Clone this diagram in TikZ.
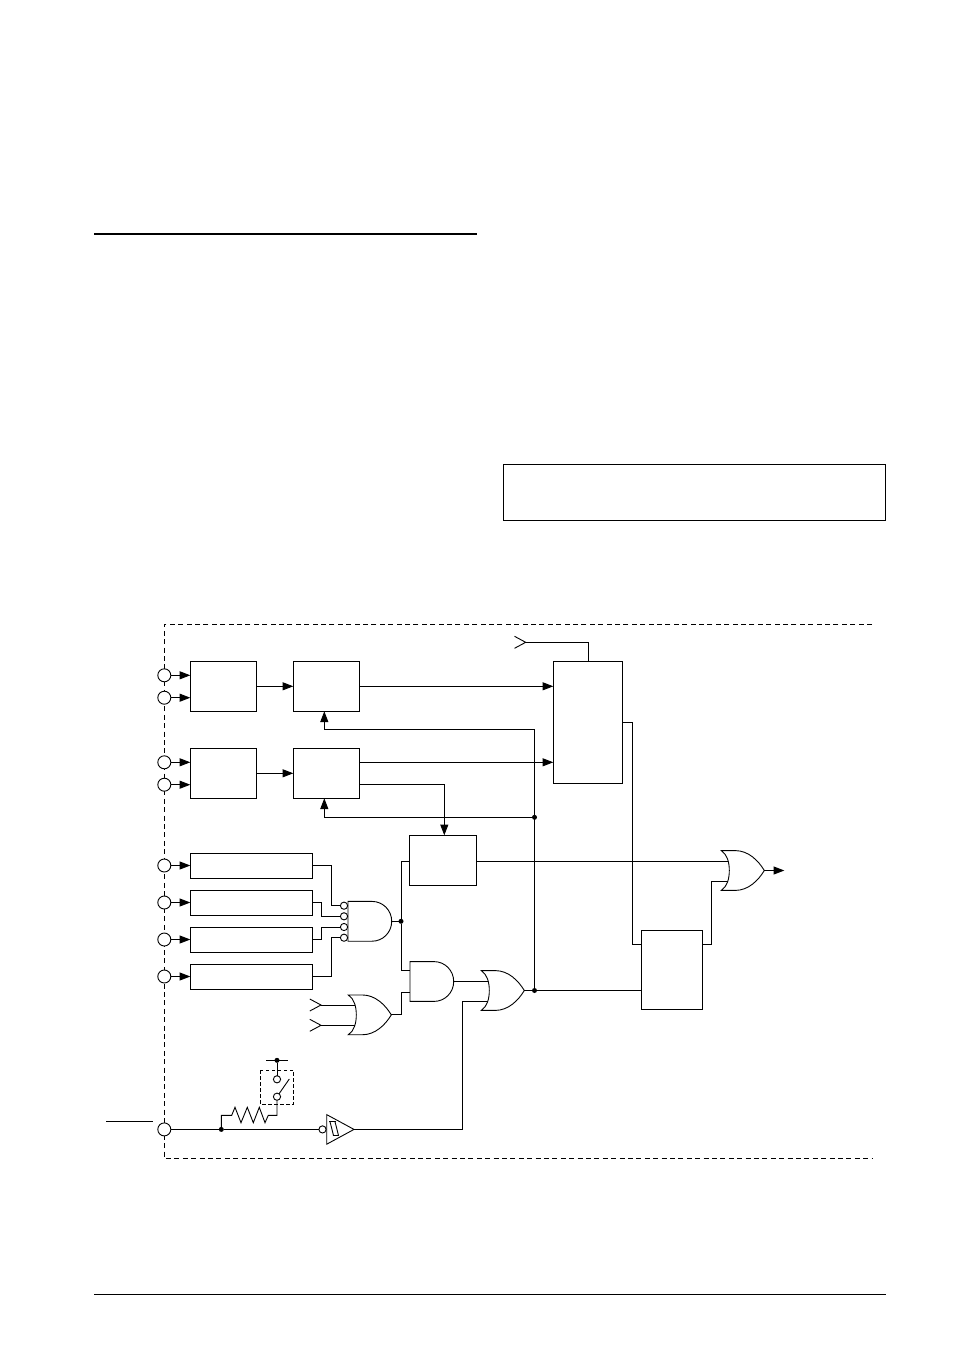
\documentclass[tikz,border=0pt]{standalone}
\usetikzlibrary{arrows.meta}

\tikzset{
    block/.style={draw,rectangle,inner sep=0pt,outer sep=0pt},
    pad/.style={draw,circle,fill=white,minimum size=13pt,inner sep=0pt,outer sep=0pt},
    bub/.style={draw,circle,fill=white,minimum size=7.2pt,inner sep=0pt,outer sep=0pt},
    dot/.style={circle,fill=black,minimum size=5pt,inner sep=0pt,outer sep=0pt},
    flow/.style={-{Triangle[length=10.7pt,width=8pt]}},
    framed/.style={dash pattern=on 5pt off 3.4pt},
    pics/andgate/.style={code={
        \draw (0,-19.9) -- (24,-19.9) .. controls (35,-19.9) and (43.7,-11) .. (43.7,0)
            .. controls (43.7,11) and (35,19.9) .. (24,19.9) -- (0,19.9) -- cycle;
        \coordinate (-a) at (0,-11.5);
        \coordinate (-b) at (0,10.5);
        \coordinate (-out) at (43.7,0);
    }},
    pics/orgate/.style={code={
        \draw (0,-19.9) -- (14,-19.9) .. controls (27,-19.9) and (37,-10) .. (43,0)
            .. controls (37,10) and (27,19.9) .. (14,19.9) -- (0,19.9)
            .. controls (6,16) and (8,8) .. (8,0) .. controls (8,-8) and (6,-16) .. (0,-19.9) -- cycle;
        \coordinate (-a) at (7,-9.1);
        \coordinate (-b) at (7,10.9);
        \coordinate (-out) at (43,0);
    }},
    pics/chevron/.style={code={
        \draw (-11.2,-6) -- (0,0) -- (-11.2,6);
        \coordinate (-tip) at (0,0);
    }},
    pics/schmitt/.style={code={
        \draw (0,-14.8) -- (27.3,0) -- (0,14.8) -- cycle;
        \draw (2.3,-7.7) -- (9.3,-7.7) (5.8,6) -- (12.6,6);
        \draw (3.3,-7.7) -- (6.8,6) (8.3,-7.7) -- (11.8,6);
        \coordinate (-out) at (27.3,0);
    }},
}

\begin{document}
\begin{tikzpicture}[x=1pt,y=-1pt,line width=0.9pt]
    \useasboundingbox (0,0) rectangle (954,1346);

    % page furniture
    \draw[line width=1.6pt] (94,234) -- (477,234);
    \draw (94,1294) -- (886,1294);
    \node (note) [block,minimum width=382.5pt,minimum height=56pt] at (694.4,492) {};

    % chip outline
    \draw[framed] (872,624.5) -- (164.3,624.5) -- (164.3,1158.3) -- (872,1158.3);

    % pads
    \node (padA) [pad] at (164.3,675.3) {};
    \node (padB) [pad] at (164.3,697.7) {};
    \node (padC) [pad] at (164.3,762.3) {};
    \node (padD) [pad] at (164.3,784.7) {};
    \node (padE) [pad] at (164.3,865.5) {};
    \node (padF) [pad] at (164.3,902.5) {};
    \node (padG) [pad] at (164.3,939.5) {};
    \node (padH) [pad] at (164.3,976.5) {};
    \node (padR) [pad] at (164.3,1129.4) {};

    % blocks
    \node (enA) [block,minimum width=66.4pt,minimum height=50pt] at (223.5,686.3) {};
    \node (cntA) [block,minimum width=66.4pt,minimum height=50pt] at (326.5,686.3) {};
    \node (enB) [block,minimum width=66.4pt,minimum height=50pt] at (223.5,773.3) {};
    \node (cntB) [block,minimum width=66.4pt,minimum height=50pt] at (326.5,773.3) {};
    \node (wideA) [block,minimum width=122.4pt,minimum height=25pt] at (251.5,865.8) {};
    \node (wideB) [block,minimum width=122.4pt,minimum height=25pt] at (251.5,902.8) {};
    \node (wideC) [block,minimum width=122.4pt,minimum height=25pt] at (251.5,939.8) {};
    \node (wideD) [block,minimum width=122.4pt,minimum height=25pt] at (251.5,976.8) {};
    \node (dec) [block,minimum width=67.3pt,minimum height=50pt] at (443,860.3) {};
    \node (mux) [block,minimum width=69.2pt,minimum height=122.2pt] at (587.9,722.4) {};
    \node (ctl) [block,minimum width=61.2pt,minimum height=79.2pt] at (671.9,969.9) {};

    % gates
    \node (bubA) [bub] at (344,905.7) {};
    \node (bubB) [bub] at (344,916.3) {};
    \node (bubC) [bub] at (344,927) {};
    \node (bubD) [bub] at (344,937.7) {};
    \pic (andA) at (348,921.3) {andgate};
    \pic (andB) at (410,981.5) {andgate};
    \pic (orA) at (348.3,1014.85) {orgate};
    \pic (orB) at (481.3,990.5) {orgate};
    \pic (orC) at (721.3,870.5) {orgate};
    \pic (smt) at (326.7,1129.4) {schmitt};
    \node (bubS) [bub] at (322.5,1129.4) {};
    \pic (chevA) at (525.7,642.3) {chevron};
    \pic (chevB) at (321,1005) {chevron};
    \pic (chevC) at (321,1025.3) {chevron};

    % junctions and corners
    \node (dotFb) [dot] at (534.5,817.3) {};
    \node (dotOr) [dot] at (534.5,990.5) {};
    \node (dotAnd) [dot] at (401,921.3) {};
    \node (dotR) [dot] at (221.3,1129.4) {};
    \node (dotV) [dot] at (277,1060.3) {};
    \coordinate (fbTop) at (534.5,729.3);
    \coordinate (fbA) at (324.3,729.3);
    \coordinate (fbB) at (324.3,817.3);
    \coordinate (kneeA) at (331.7,905.7);
    \coordinate (kneeB) at (321.7,916.3);
    \coordinate (kneeC) at (321.7,927);
    \coordinate (kneeD) at (331.7,937.7);
    \coordinate (decIn) at (444.3,784.3);
    \coordinate (muxIn) at (588.5,642.3);
    \coordinate (muxOut) at (632.5,722.3);
    \coordinate (ctlOut) at (711.5,944.3);
    \coordinate (orAup) at (401.7,992.3);
    \coordinate (rstUp) at (462.7,1001.4);
    \coordinate (endC) at (784.3,870.5);
    \coordinate (rL) at (231.7,1115.3);
    \coordinate (rR) at (268.3,1115.3);

    % inputs
    \draw[flow] (padA) -- (enA.west |- padA);
    \draw[flow] (padB) -- (enA.west |- padB);
    \draw[flow] (padC) -- (enB.west |- padC);
    \draw[flow] (padD) -- (enB.west |- padD);
    \draw[flow] (padE) -- (wideA.west |- padE);
    \draw[flow] (padF) -- (wideB.west |- padF);
    \draw[flow] (padG) -- (wideC.west |- padG);
    \draw[flow] (padH) -- (wideD.west |- padH);

    % upper channels
    \draw[flow] (enA) -- (cntA);
    \draw[flow] (enB) -- (cntB);
    \draw[flow] (cntA) -- (mux.west |- cntA);
    \draw[flow] (cntB.east |- padC) -- (mux.west |- padC);
    \draw[flow] (cntB.east |- decIn) -- (decIn) -- (decIn |- dec.north);
    \draw (chevA-tip) -- (muxIn) -- (muxIn |- mux.north);
    \draw[flow] (dotOr) -- (fbTop) -- (fbA) -- (fbA |- cntA.south);
    \draw[flow] (dotFb) -- (fbB) -- (fbB |- cntB.south);

    % four inputs into the nand
    \draw (wideA.east) -| (kneeA) -- (bubA);
    \draw (wideB.east) -| (kneeB) -- (bubB);
    \draw (wideC.east) -| (kneeC) -- (bubC);
    \draw (wideD.east) -| (kneeD) -- (bubD);
    \draw (andA-out) -- (dotAnd);
    \draw (dec.west |- orC-a) -| (dotAnd) |- (andB-a);
    \draw (chevB-tip) -- (chevB-tip -| orA-a);
    \draw (chevC-tip) -- (chevC-tip -| orA-b);
    \draw (orA-out) -| (orAup) -- (orAup -| andB-b);
    \draw (andB-out) -- (andB-out -| orB-a);
    \draw (orB-out) -- (dotOr) -- (ctl.west |- dotOr);

    % right side
    \draw (dec.east |- orC-a) -- (orC-a);
    \draw (mux.east |- muxOut) -- (muxOut) |- (ctl.west |- ctlOut);
    \draw (ctl.east |- ctlOut) -- (ctlOut) |- (orC-b);
    \draw[flow] (orC-out) -- (endC);

    % reset pin
    \draw (106,1121.5) -- (153,1121.5);
    \node (swT) [bub] at (277,1079.3) {};
    \node (swB) [bub] at (277,1096.7) {};
    \draw[framed,dash pattern=on 3.5pt off 2.5pt,line width=0.8pt] (260.3,1070.3) rectangle (293.7,1104.3);
    \draw (padR) -- (dotR) -- (bubS);
    \draw (dotR) |- (rL) -- (235,1107.3) -- (241,1122.7) -- (247.3,1107.3) -- (253.3,1122.7)
        -- (259.3,1107.3) -- (265,1122.7) -- (rR) -| (swB);
    \draw (swB) -- (289.3,1079);
    \draw (swT) -- (dotV);
    \draw (266.3,1060.3) -- (288,1060.3);
    \draw (smt-out) -| (rstUp) -- (orB-b);
\end{tikzpicture}
\end{document}
